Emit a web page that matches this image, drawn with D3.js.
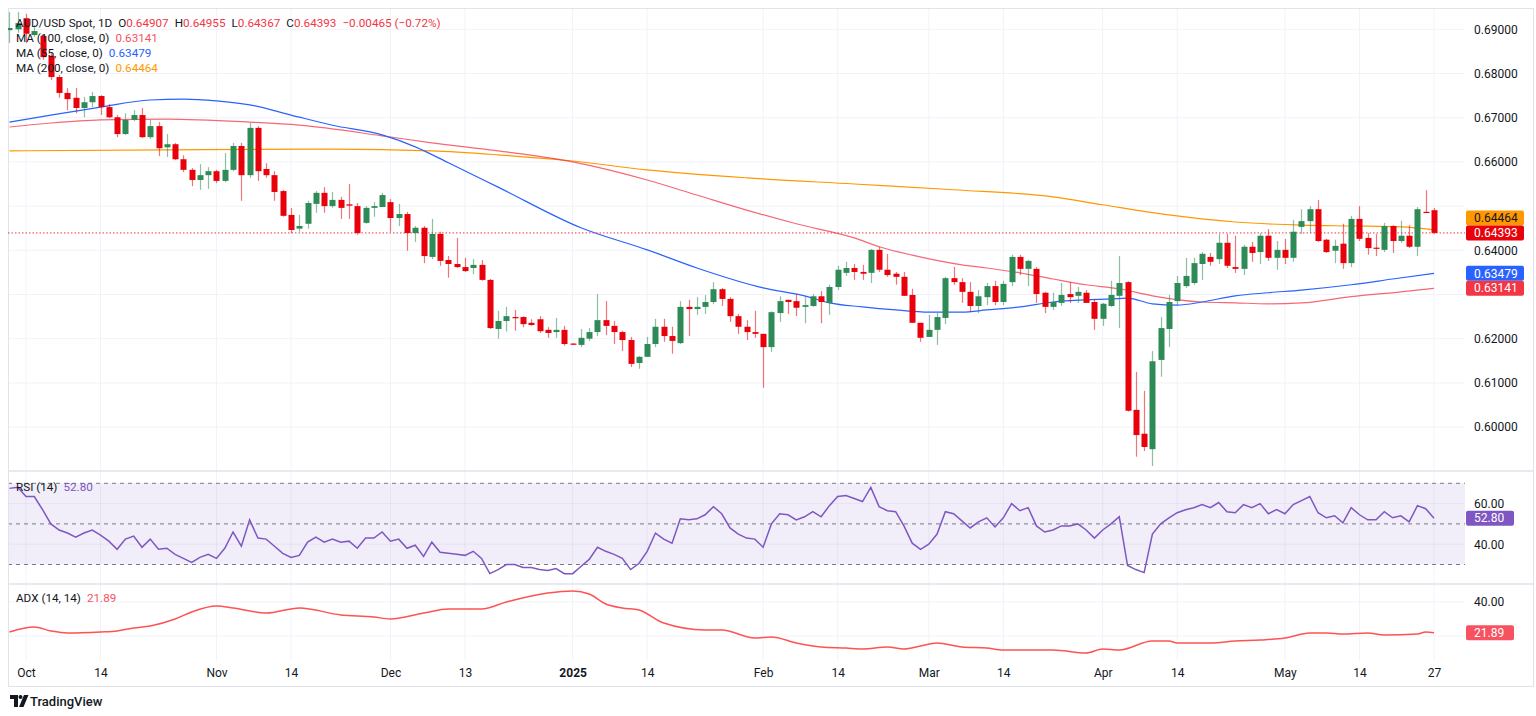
<!DOCTYPE html>
<html><head><meta charset="utf-8">
<script src="https://cdn.jsdelivr.net/npm/d3@7"></script>
<style>
body{margin:0;background:#fff;}
svg text{font-family:Roboto,"Noto Sans",sans-serif;}
</style>
</head><body>
<svg id="chart" width="1536" height="716"></svg>
<script>
// ---- DATA (bar index 0 = 1 Oct 2024; first bar index -2) ----
const firstIndex = -2;
const opens = [
0.6898,0.6900,0.6925,0.6887,0.6885,0.6840,0.6792,0.6756,0.6745,0.6722,
0.6735,0.6749,0.6724,0.6701,0.6663,0.6695,0.6706,0.6656,0.6681,0.6633,
0.6640,0.6606,0.6582,0.6559,0.6570,0.6579,0.6557,0.6582,0.6636,0.6570,
0.6677,0.6584,0.6570,0.6534,0.6480,0.6449,0.6460,0.6505,0.6530,0.6500,
0.6514,0.6504,0.6500,0.6462,0.6496,0.6498,0.6509,0.6473,0.6482,0.6439,
0.6451,0.6385,0.6437,0.6378,0.6369,0.6362,0.6360,0.6367,0.6333,0.6222,
0.6240,0.6249,0.6249,0.6236,0.6244,0.6220,0.6215,0.6220,0.6189,0.6186,
0.6200,0.6215,0.6242,0.6229,0.6215,0.6197,0.6145,0.6159,0.6188,0.6227,
0.6206,0.6190,0.6272,0.6267,0.6272,0.6283,0.6312,0.6290,0.6251,0.6227,
0.6215,0.6211,0.6181,0.6258,0.6288,0.6285,0.6272,0.6274,0.6296,0.6281,
0.6317,0.6349,0.6360,0.6351,0.6349,0.6401,0.6356,0.6347,0.6340,0.6299,
0.6236,0.6204,0.6220,0.6247,0.6337,0.6328,0.6306,0.6274,0.6294,0.6319,
0.6283,0.6328,0.6385,0.6358,0.6358,0.6304,0.6272,0.6281,0.6301,0.6297,
0.6304,0.6283,0.6245,0.6274,0.6297,0.6328,0.6039,0.5985,0.5950,0.6152,
0.6222,0.6285,0.6319,0.6326,0.6369,0.6385,0.6380,0.6417,0.6362,0.6358,
0.6408,0.6396,0.6433,0.6383,0.6401,0.6383,0.6453,0.6466,0.6493,0.6424,
0.6399,0.6415,0.6371,0.6471,0.6428,0.6406,0.6401,0.6455,0.6421,0.6433,
0.6408,0.6487,0.64907];
const highs = [
0.6939,0.6939,0.6935,0.6910,0.6889,0.6846,0.6797,0.6767,0.6767,0.6747,
0.6758,0.6751,0.6731,0.6706,0.6710,0.6717,0.6722,0.6695,0.6690,0.6663,
0.6643,0.6615,0.6586,0.6595,0.6588,0.6582,0.6620,0.6643,0.6643,0.6688,
0.6681,0.6597,0.6579,0.6537,0.6496,0.6480,0.6512,0.6534,0.6543,0.6532,
0.6521,0.6550,0.6507,0.6500,0.6509,0.6530,0.6516,0.6505,0.6487,0.6455,
0.6455,0.6471,0.6442,0.6387,0.6428,0.6383,0.6380,0.6378,0.6335,0.6263,
0.6272,0.6265,0.6251,0.6244,0.6251,0.6226,0.6247,0.6229,0.6190,0.6222,
0.6224,0.6301,0.6285,0.6240,0.6218,0.6204,0.6161,0.6204,0.6245,0.6245,
0.6227,0.6285,0.6288,0.6294,0.6299,0.6328,0.6315,0.6294,0.6256,0.6242,
0.6263,0.6211,0.6262,0.6296,0.6288,0.6301,0.6296,0.6301,0.6308,0.6322,
0.6365,0.6374,0.6369,0.6367,0.6403,0.6408,0.6392,0.6351,0.6351,0.6313,
0.6236,0.6254,0.6258,0.6340,0.6362,0.6337,0.6328,0.6310,0.6326,0.6331,
0.6331,0.6390,0.6390,0.6378,0.6362,0.6306,0.6304,0.6326,0.6328,0.6317,
0.6310,0.6290,0.6281,0.6331,0.6387,0.6330,0.6125,0.6082,0.6172,0.6249,
0.6299,0.6342,0.6383,0.6383,0.6396,0.6394,0.6437,0.6437,0.6433,0.6412,
0.6419,0.6439,0.6448,0.6421,0.6426,0.6469,0.6493,0.6500,0.6514,0.6426,
0.6424,0.6460,0.6478,0.6500,0.6439,0.6437,0.6462,0.6457,0.6467,0.6457,
0.6498,0.6536,0.64955];
const lows = [
0.6869,0.6892,0.6869,0.6883,0.6831,0.6785,0.6745,0.6717,0.6710,0.6701,
0.6724,0.6706,0.6699,0.6656,0.6661,0.6692,0.6654,0.6652,0.6613,0.6611,
0.6604,0.6577,0.6545,0.6537,0.6539,0.6552,0.6554,0.6579,0.6512,0.6564,
0.6557,0.6564,0.6512,0.6476,0.6439,0.6442,0.6449,0.6485,0.6485,0.6496,
0.6471,0.6471,0.6435,0.6460,0.6476,0.6498,0.6442,0.6455,0.6399,0.6419,
0.6371,0.6380,0.6365,0.6338,0.6360,0.6351,0.6346,0.6331,0.6222,0.6200,
0.6216,0.6218,0.6226,0.6229,0.6213,0.6202,0.6202,0.6184,0.6186,0.6181,
0.6195,0.6206,0.6208,0.6188,0.6172,0.6136,0.6132,0.6159,0.6181,0.6193,
0.6166,0.6188,0.6206,0.6254,0.6256,0.6278,0.6274,0.6238,0.6211,0.6197,
0.6202,0.6089,0.6170,0.6238,0.6256,0.6251,0.6235,0.6272,0.6235,0.6254,
0.6310,0.6342,0.6333,0.6333,0.6326,0.6351,0.6340,0.6322,0.6297,0.6236,
0.6193,0.6204,0.6186,0.6233,0.6322,0.6281,0.6260,0.6258,0.6276,0.6276,
0.6276,0.6319,0.6344,0.6319,0.6281,0.6258,0.6265,0.6274,0.6281,0.6281,
0.6281,0.6220,0.6229,0.6272,0.6224,0.6035,0.5933,0.5946,0.5912,0.6114,
0.6181,0.6276,0.6315,0.6322,0.6333,0.6365,0.6369,0.6360,0.6349,0.6344,
0.6374,0.6369,0.6376,0.6356,0.6369,0.6374,0.6437,0.6439,0.6419,0.6394,
0.6371,0.6358,0.6362,0.6421,0.6390,0.6387,0.6396,0.6394,0.6417,0.6405,
0.6387,0.6485,0.64367];
const closes = [
0.6903,0.6914,0.6890,0.6896,0.6837,0.6792,0.6756,0.6742,0.6722,0.6735,
0.6749,0.6724,0.6701,0.6663,0.6695,0.6706,0.6656,0.6681,0.6631,0.6640,
0.6606,0.6582,0.6559,0.6570,0.6579,0.6557,0.6582,0.6636,0.6570,0.6677,
0.6579,0.6570,0.6532,0.6478,0.6446,0.6455,0.6507,0.6530,0.6500,0.6514,
0.6496,0.6501,0.6439,0.6496,0.6500,0.6525,0.6473,0.6482,0.6439,0.6451,
0.6387,0.6437,0.6376,0.6369,0.6362,0.6353,0.6367,0.6333,0.6224,0.6240,
0.6251,0.6247,0.6233,0.6231,0.6217,0.6213,0.6220,0.6188,0.6187,0.6202,
0.6215,0.6242,0.6229,0.6215,0.6197,0.6143,0.6159,0.6188,0.6227,0.6206,
0.6195,0.6272,0.6267,0.6272,0.6283,0.6312,0.6290,0.6251,0.6227,0.6215,
0.6211,0.6181,0.6260,0.6285,0.6283,0.6270,0.6276,0.6296,0.6283,0.6317,
0.6356,0.6360,0.6351,0.6347,0.6401,0.6356,0.6344,0.6340,0.6297,0.6236,
0.6202,0.6220,0.6249,0.6337,0.6328,0.6306,0.6274,0.6296,0.6319,0.6283,
0.6324,0.6385,0.6358,0.6376,0.6301,0.6272,0.6283,0.6299,0.6294,0.6306,
0.6281,0.6245,0.6279,0.6299,0.6326,0.6037,0.5982,0.5955,0.6149,0.6224,
0.6283,0.6326,0.6342,0.6371,0.6392,0.6374,0.6417,0.6365,0.6358,0.6408,
0.6394,0.6433,0.6383,0.6401,0.6383,0.6442,0.6466,0.6493,0.6421,0.6396,
0.6410,0.6371,0.6471,0.6426,0.6405,0.6404,0.6455,0.6421,0.6433,0.6408,
0.6493,0.6485,0.64393];

// moving averages: [bar index, value]
const ma55 = [[-2,0.6690],[3,0.6706],[9,0.6724],[15,0.6740],[19,0.6742],[23,0.6738],[27,0.6729],[32,0.6706],[37,0.6683],[43,0.6661],[47,0.6634],[51,0.6598],[57,0.6543],[67,0.6451],[75,0.6401],[81,0.6360],[89,0.6315],[94,0.6297],[97,0.6281],[101,0.6272],[105,0.6265],[109,0.6260],[113,0.6260],[116,0.6265],[120,0.6272],[124,0.6283],[128,0.6288],[131,0.6290],[133,0.6292],[136,0.6279],[139,0.6276],[142,0.6283],[146,0.6297],[150,0.6304],[154,0.6310],[160,0.6322],[165,0.6335],[170,0.63479]];
const ma100 = [[-2,0.6679],[3,0.6688],[9,0.6695],[17,0.6697],[27,0.6690],[33,0.6683],[43,0.6659],[49,0.6643],[57,0.6625],[66,0.6600],[75,0.6559],[81,0.6525],[87,0.6491],[93,0.6460],[100,0.6428],[103,0.6408],[107,0.6389],[113,0.6367],[116,0.6360],[120,0.6349],[124,0.6335],[128,0.6322],[132,0.6313],[136,0.6297],[142,0.6283],[146,0.6281],[150,0.6279],[154,0.6281],[160,0.6295],[166,0.6306],[170,0.63141]];
const ma200 = [[-2,0.6625],[17,0.6627],[37,0.6629],[49,0.6625],[57,0.6616],[66,0.6602],[75,0.6582],[87,0.6564],[100,0.6550],[112,0.6537],[124,0.6521],[130,0.6503],[138,0.6480],[146,0.6464],[154,0.6457],[160,0.6455],[166,0.6453],[170,0.64464]];

// RSI(14) per bar from index -2
const rsi = [
67.5,68,63.5,63.5,57,50,47,45.5,43.5,45.5,
47,44.5,41.5,37.5,42.5,44,38.5,42.5,37.5,38,
35,33,31,33.5,35,33,38,46,39,52,
43,42.5,39,35.5,33.5,34.5,41,43.5,41,42.5,
41,41.5,38,43,43,46,41.5,42.5,38,39.5,
34,41,36,35.5,35,34.5,36.5,33,25.5,27.5,
30,30,28.5,28.5,27.5,27,28,25.5,25.5,29,
32.5,38.5,36.5,35,33,27.5,30.5,36.5,45.5,42.5,
40.5,52.5,52,52.5,54.5,58.5,55,48,45,43,
42.5,38.5,50,55,54.5,52,53.5,56,53.5,59,
63.5,64,62.5,61,68,58.5,56.5,56,49,40.5,
37.5,40,45,56,55,51.5,48,51,53,48.5,
53,60,56.5,58,49,46,47,49,49,50,
47,43,47,50,53.5,29.5,27.5,26,45,50,
53,55.5,57,58,59.5,58,60.5,56,55.5,59.5,
58,60,55,57,55,59.5,61.5,63.5,55.5,53,
54,50.5,58,54.5,52,52,56,53,54,51,
59,57.5,52.8];

// ADX(14,14): [bar index, value]
const adx = [[-2,22.4],[1,25.3],[3,23],[5,21.8],[9,22.4],[11,23],[13,24.7],[15,25.9],[18,30],[20,34.1],[23,37.6],[25,36.5],[29,33.5],[33,36.5],[38,32.4],[42,31.2],[44,30],[48,33.5],[51,35.9],[55,35.9],[58,40],[63,45.3],[66,46.5],[68,44.7],[70,38.8],[72,36.5],[74,35.3],[77,27.6],[82,23.5],[84,23.5],[88,18.8],[90,19.4],[93,15.9],[96,13.5],[99,12.9],[101,12.4],[104,13.5],[106,12.4],[108,14.1],[110,15.9],[113,13.5],[116,12.9],[118,11.8],[121,11.8],[124,11.8],[128,10],[130,12.4],[132,11.8],[136,17.1],[138,17.1],[139,15.9],[143,15.9],[146,17.1],[149,17.6],[152,18.8],[155,21.8],[157,21.8],[159,21.2],[162,21.8],[164,20.6],[168,21.2],[169,22.4],[170,21.89]];

const tickIndex = [0,9,23,32,44,53,66,75,89,98,109,118,130,139,152,161,170];
const tickLabels = ["Oct","14","Nov","14","Dec","13","2025","14","Feb","14","Mar","14","Apr","14","May","14","27"];
const priceTicks = [0.60,0.61,0.62,0.63,0.64,0.65,0.66,0.67,0.68,0.69];
const rsiTicks = [40,60];
const rsiBands = [70,50,30];
const adxTicks = [20,40];

// ---- LAYOUT ----
const svg = d3.select('#chart');
const PL = 8, PR = 1465, FR = 1533;
const MAIN_T = 8, MAIN_B = 471, RSI_B = 584, ADX_B = 660, FRAME_B = 686;
const GRID = '#f0f3fa', SEP = '#e0e3eb', TXT = '#131722';
const UP = '#2e8b57', DN = '#e8000b';

const x = d3.scaleLinear().domain([0,170]).range([26,1434]);
const yP = d3.scaleLinear().domain([0.60,0.69]).range([427.1,29.3]);
const yR = d3.scaleLinear().domain([30,70]).range([564.5,483.3]);
const yA = d3.scaleLinear().domain([20,40]).range([636,602]);

const bars = closes.map((c,k)=>({i:firstIndex+k,o:opens[k],h:highs[k],l:lows[k],c:c}));

// grids
const g = svg.append('g');
tickIndex.forEach(i=>g.append('line').attr('x1',x(i)).attr('x2',x(i)).attr('y1',MAIN_T).attr('y2',ADX_B).attr('stroke',GRID));
priceTicks.forEach(p=>g.append('line').attr('x1',PL).attr('x2',PR).attr('y1',yP(p)).attr('y2',yP(p)).attr('stroke',GRID));

// RSI band
g.append('rect').attr('x',PL).attr('y',yR(70)).attr('width',PR-PL).attr('height',yR(30)-yR(70)).attr('fill','rgba(126,87,194,0.1)');
rsiTicks.forEach(v=>g.append('line').attr('x1',PL).attr('x2',PR).attr('y1',yR(v)).attr('y2',yR(v)).attr('stroke','rgba(126,87,194,0.08)'));
rsiBands.forEach(v=>g.append('line').attr('x1',PL).attr('x2',PR).attr('y1',yR(v)).attr('y2',yR(v)).attr('stroke','#787b86').attr('stroke-dasharray','4,4').attr('stroke-width',1));
adxTicks.forEach(v=>g.append('line').attr('x1',PL).attr('x2',PR).attr('y1',yA(v)).attr('y2',yA(v)).attr('stroke',GRID));

// frame & separators
svg.append('rect').attr('x',PL+0.5).attr('y',MAIN_T+0.5).attr('width',FR-PL).attr('height',FRAME_B-MAIN_T).attr('fill','none').attr('stroke',SEP);
[MAIN_B,RSI_B].forEach(yy=>svg.append('line').attr('x1',PL).attr('x2',FR).attr('y1',yy).attr('y2',yy).attr('stroke',SEP).attr('stroke-width',1.5));

// clip
svg.append('clipPath').attr('id','clipMain').append('rect').attr('x',PL).attr('y',MAIN_T).attr('width',PR-PL).attr('height',MAIN_B-MAIN_T);
svg.append('clipPath').attr('id','clipRsi').append('rect').attr('x',PL).attr('y',MAIN_B).attr('width',PR-PL).attr('height',RSI_B-MAIN_B);
svg.append('clipPath').attr('id','clipAdx').append('rect').attr('x',PL).attr('y',RSI_B).attr('width',PR-PL).attr('height',ADX_B-RSI_B);

const main = svg.append('g').attr('clip-path','url(#clipMain)');

// MA lines
const maLine = d3.line().x(d=>x(d[0])).y(d=>yP(d[1])).curve(d3.curveMonotoneX);
main.append('path').attr('d',maLine(ma200)).attr('fill','none').attr('stroke','#ff9800').attr('stroke-width',1.2);
main.append('path').attr('d',maLine(ma100)).attr('fill','none').attr('stroke','#f23645').attr('stroke-opacity',0.75).attr('stroke-width',1.2);
main.append('path').attr('d',maLine(ma55)).attr('fill','none').attr('stroke','#2962ff').attr('stroke-width',1.2);

// close price line
const lastClose = closes[closes.length-1];
main.append('line').attr('x1',PL).attr('x2',PR).attr('y1',yP(lastClose)).attr('y2',yP(lastClose)).attr('stroke','#f23645').attr('stroke-dasharray','1.5,2').attr('stroke-width',1);

// candles
const cg = main.append('g');
cg.selectAll('line.w').data(bars).join('line').attr('class','w')
  .attr('x1',d=>Math.round(x(d.i))+0.5).attr('x2',d=>Math.round(x(d.i))+0.5)
  .attr('y1',d=>yP(d.h)).attr('y2',d=>yP(d.l))
  .attr('stroke',d=>d.c>=d.o?UP:DN).attr('stroke-opacity',0.55).attr('stroke-width',1.2);
cg.selectAll('rect.b').data(bars).join('rect').attr('class','b')
  .attr('x',d=>Math.round(x(d.i))-2.5).attr('width',6)
  .attr('y',d=>yP(Math.max(d.o,d.c))).attr('height',d=>Math.max(1.2,Math.abs(yP(d.o)-yP(d.c))))
  .attr('fill',d=>d.c>=d.o?UP:DN);

// RSI line
const rsiLine = d3.line().x((d,k)=>x(firstIndex+k)).y(d=>yR(d));
svg.append('g').attr('clip-path','url(#clipRsi)').append('path').attr('d',rsiLine(rsi)).attr('fill','none').attr('stroke','#7e57c2').attr('stroke-width',1.5);

// ADX line
const adxLine = d3.line().x(d=>x(d[0])).y(d=>yA(d[1])).curve(d3.curveMonotoneX);
svg.append('g').attr('clip-path','url(#clipAdx)').append('path').attr('d',adxLine(adx)).attr('fill','none').attr('stroke','#ff5252').attr('stroke-width',1.5);

// right-side value label positions
const yClose = yP(lastClose);
const labels = [
  {y: Math.min(yP(0.64464), yClose-15), t:'0.64464', bg:'#ff9800', fg:'#131722', w:58},
  {y: yClose, t:'0.64393', bg:'#e8000b', fg:'#ffffff', w:58},
  {y: yP(0.63479), t:'0.63479', bg:'#2962ff', fg:'#ffffff', w:58},
  {y: yP(0.63141), t:'0.63141', bg:'#f23645', fg:'#ffffff', w:58},
  {y: yR(52.80), t:'52.80', bg:'#7e57c2', fg:'#ffffff', w:48},
  {y: yA(21.89), t:'21.89', bg:'#f7525f', fg:'#ffffff', w:48}
];
const hidden = yy => labels.some(l=>Math.abs(l.y-yy)<13);

// axes
function styleAxis(sel){
  sel.select('.domain').remove();
  sel.selectAll('text').attr('fill',TXT).attr('font-size',12).attr('font-family','Roboto, sans-serif');
}
function yAxis(scale, ticks, fmt){
  const ax = svg.append('g').attr('transform',`translate(${PR},0)`)
    .call(d3.axisRight(scale).tickValues(ticks).tickFormat(d3.format(fmt)).tickSize(0).tickPadding(9)).call(styleAxis);
  ax.selectAll('.tick').filter(d=>hidden(scale(d))).remove();
}
yAxis(yP, priceTicks, '.5f');
yAxis(yR, rsiTicks, '.2f');
yAxis(yA, adxTicks, '.2f');
const xa = svg.append('g').attr('transform',`translate(0,${ADX_B})`).call(d3.axisBottom(x).tickValues(tickIndex).tickFormat((d,k)=>tickLabels[k]).tickSize(0).tickPadding(8)).call(styleAxis);
xa.selectAll('text').filter(d=>tickLabels[tickIndex.indexOf(d)]==='2025').attr('font-weight','bold');

labels.forEach(l=>{
  const gg = svg.append('g');
  gg.append('rect').attr('x',PR+1).attr('y',l.y-7.5).attr('width',l.w).attr('height',15).attr('rx',2).attr('fill',l.bg);
  gg.append('text').attr('x',PR+9).attr('y',l.y+4.2).attr('fill',l.fg).attr('font-size',12).text(l.t);
});

// legends
function legendRow(y, parts){
  let cx = 16;
  parts.forEach(p=>{
    cx += p.gap||0;
    const t = svg.append('text').attr('x',cx).attr('y',y).attr('fill',p.c).attr('font-size',11.7).text(p.t);
    cx += t.node().getComputedTextLength();
  });
}
const RED = '#f23645';
legendRow(27,[{t:'AUD/USD Spot, 1D',c:TXT},{t:'O',c:TXT,gap:6},{t:'0.64907',c:RED},{t:'H',c:TXT,gap:6},{t:'0.64955',c:RED},{t:'L',c:TXT,gap:6},{t:'0.64367',c:RED},{t:'C',c:TXT,gap:6},{t:'0.64393',c:RED},{t:'\u22120.00465 (\u22120.72%)',c:RED,gap:6}]);
legendRow(42,[{t:'MA (100, close, 0)',c:TXT},{t:'0.63141',c:'#f7525f',gap:6}]);
legendRow(57,[{t:'MA (55, close, 0)',c:TXT},{t:'0.63479',c:'#2962ff',gap:6}]);
legendRow(72,[{t:'MA (200, close, 0)',c:TXT},{t:'0.64464',c:'#ff9800',gap:6}]);
legendRow(491,[{t:'RSI (14)',c:TXT},{t:'52.80',c:'#7e57c2',gap:6}]);
legendRow(602,[{t:'ADX (14, 14)',c:TXT},{t:'21.89',c:'#f7525f',gap:6}]);

// TradingView logo
const lg = svg.append('g').attr('fill','#131722');
lg.append('path').attr('d','M10 695 H18 V707 H14 V699 H10 Z');
lg.append('circle').attr('cx',20.5).attr('cy',697).attr('r',2);
lg.append('path').attr('d','M24 695 H28.5 L23.5 707 H19 Z');
svg.append('text').attr('x',30).attr('y',705.5).attr('fill','#131722').attr('font-size',13).attr('font-weight',500).text('TradingView');
</script>
</body></html>
